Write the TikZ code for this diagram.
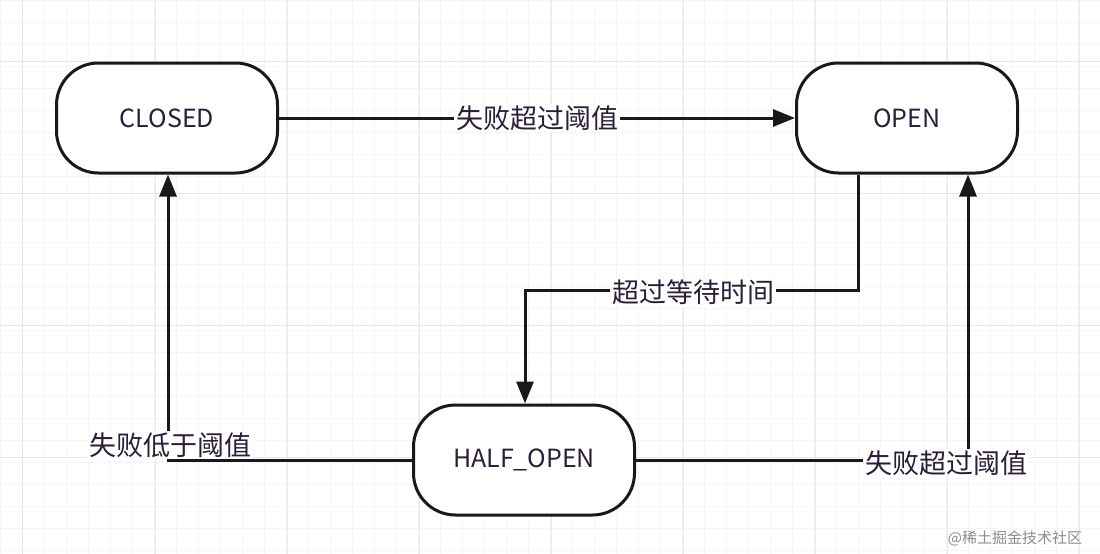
\documentclass[tikz,border=0pt]{standalone}
\usepackage{fontspec}
\setmainfont{Noto Sans CJK SC}
\usetikzlibrary{arrows.meta}
\definecolor{txt}{HTML}{2A1E38}
\begin{document}
\begin{tikzpicture}[x=1pt,y=-1pt,
  state/.style={draw=black!90,line width=3pt,rounded corners=42pt,minimum width=221pt,minimum height=110pt,fill=white,font=\fontsize{25}{28}\selectfont,text=txt},
  lab/.style={fill=white,inner sep=2pt,font=\fontsize{27}{30}\selectfont,text=txt},
  conn/.style={line width=3pt,draw=black!90,-{Triangle[length=22pt,width=17pt]}}]
\fill[white] (0,0) rectangle (1100,554);
\useasboundingbox (0,0) rectangle (1100,554);
\draw[black!4,line width=0.6pt] (0,0) grid[step=22pt] (1100,554);
\foreach \x in {22,155,287,419,551,683,815,947,1079} \draw[black!9,line width=0.8pt] (\x,0) -- (\x,554);
\foreach \y in {61,193,325,457} \draw[black!9,line width=0.8pt] (0,\y) -- (1100,\y);
\node[state] (closed) at (167,118) {CLOSED};
\node[state] (open) at (907,118) {OPEN};
\node[state] (half) at (524,460) {HALF\_OPEN};
\coordinate (c1) at (858,290);
\coordinate (c2) at (525,290);
\coordinate (c3) at (168,460);
\coordinate (c4) at (968,460);
\draw[conn] (closed.east) -- (open.west) node[lab,midway] (l1) {失败超过阈值};
\draw[conn] (open.south -| c1) -- (c1) -- (c2) -- (half.north -| c2);
\node[lab] (l2) at (693,292) {超过等待时间};
\draw[conn] (half.west) -- (c3) -- (closed.south -| c3);
\node[lab] (l3) at (170,445) {失败低于阈值};
\draw[conn] (half.east) -- (c4) -- (open.south -| c4);
\node[lab] (l4) at (946,463) {失败超过阈值};
\node[text=black!45,font=\fontsize{15}{17}\selectfont] (wm) at (1015,538) {@稀土掘金技术社区};
\end{tikzpicture}
\end{document}
